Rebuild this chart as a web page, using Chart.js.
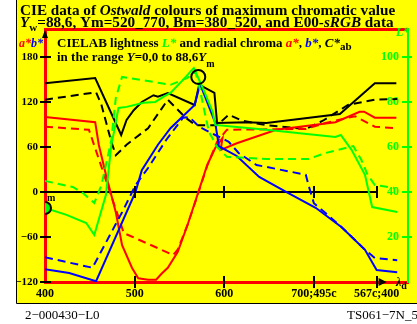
<!DOCTYPE html>
<html>
<head>
<meta charset="utf-8">
<script src="https://cdn.jsdelivr.net/npm/chart.js"></script>
<style>
  html, body { margin: 0; padding: 0; background: #fff; }
</style>
</head>
<body>
<canvas id="ostwaldChart" width="417" height="324"></canvas>
<script>
// wavelength axis ticks
const xTicks = [400, 500, 600, 700, 770];
const xTickLabels = ["400", "500", "600", "700;495c", "567c;400"];
const abTicks = [-120, -60, 0, 60, 120, 180];
const lTicks = [20, 40, 60, 80, 100];

// a* (solid = Ostwald, dashed = E00-sRGB)
const aLam = [400, 456, 460, 468, 479, 486, 497, 504, 515, 524, 530, 537, 548, 559, 570, 581, 590, 598, 596, 614, 658, 724, 751, 756, 768, 792];
const aVal = [100, 93, 63, 23, -27, -71, -101, -115, -117, -117, -109, -101, -80, -44, -4, 36, 59, 72, 56, 65, 83, 93, 107, 107, 99, 99];
const aLamE = [400, 449, 488, 496, 543, 548, 559, 570, 581, 592, 603, 691, 713, 738, 746, 768, 792];
const aValE = [87, 83, -55, -59, -84, -77, -44, -5, 35, 67, 83, 84, 92, 99, 101, 87, 85];

// b*
const bLam = [400, 427, 457, 501, 508, 526, 540, 567, 573, 590, 594, 614, 639, 669, 702, 731, 757, 770, 793];
const bVal = [-103, -108, -119, 0, 29, 63, 85, 116, 144, 92, 61, 48, 20, 0, -21, -47, -77, -104, -107];
const bLamE = [400, 453, 486, 501, 515, 535, 554, 561, 572, 590, 605, 616, 636, 691, 694, 700, 713, 731, 757, 768, 793];
const bValE = [-87, -101, -27, 9, 32, 69, 99, 100, 87, 76, 67, 52, 36, 23, 9, -15, -28, -47, -77, -88, -91];

// C*ab
const cLam = [400, 456, 485, 491, 499, 508, 521, 526, 537, 567, 572, 589, 592, 625, 647, 729, 768, 792];
const cVal = [145, 152, 76, 96, 109, 120, 129, 127, 132, 116, 143, 132, 92, 93, 92, 104, 145, 145];
const cLamE = [400, 457, 463, 474, 479, 491, 515, 537, 557, 568, 592, 605, 620, 647, 691, 710, 738, 768, 793];
const cValE = [123, 133, 116, 67, 49, 63, 85, 123, 99, 89, 89, 103, 95, 89, 84, 95, 116, 123, 124];

// L* (right axis)
const lLam = [400, 424, 446, 455, 468, 474, 477, 482, 491, 510, 523, 532, 540, 554, 566, 576, 587, 590, 614, 647, 724, 730, 742, 757, 765, 793];
const lVal = [32.9, 29.8, 26.2, 20.9, 38.7, 60.9, 66.7, 77.3, 77.8, 79.6, 80, 82.2, 84, 89.8, 95.1, 86.2, 75.6, 69.8, 68.9, 67.6, 64.4, 65.3, 58.7, 47.6, 33.3, 31.1];
const lLamE = [400, 431, 442, 455, 463, 468, 474, 479, 486, 493, 528, 540, 559, 568, 573, 578, 583, 592, 603, 647, 694, 713, 744, 753, 760, 768, 790];
const lValE = [44.9, 42.2, 39.6, 35.1, 43.1, 52, 63.1, 81.8, 91.1, 90.7, 88.4, 87.6, 90.7, 93.3, 85.3, 75.6, 66.7, 60, 55.6, 54.7, 54.7, 57.3, 60.4, 54.2, 47.6, 43.1, 41.8];

// markers: start point and Y_m maximum
const mLam = [400], mL = [32.9];
const ymLam = [571], ymL = [91.1];

const pts = (xs, ys) => xs.map((x, i) => ({ x: x, y: ys[i] }));
const serif = "Liberation Serif";
const F = (size, style) => (style || "bold") + " " + size + "px \"" + serif + "\"";

function line(xs, ys, color, dashed, axis) {
  return {
    data: pts(xs, ys),
    yAxisID: axis || "y",
    showLine: true,
    borderColor: color,
    borderWidth: 2,
    borderDash: dashed ? [8, 5] : [],
    pointRadius: 0,
    fill: false,
  };
}

function rich(c, x, y, parts) {
  parts.forEach(p => {
    c.font = p.font;
    c.fillStyle = p.color || "#000";
    c.fillText(p.t, x, y + (p.dy || 0));
    x += c.measureText(p.t).width;
  });
  return x;
}

const decor = {
  id: "decor",
  beforeDraw(chart) {
    const c = chart.ctx;
    c.save();
    c.fillStyle = "#fff";
    c.fillRect(0, 0, chart.width, chart.height);
    c.fillStyle = "#ffff00";
    c.fillRect(16, 0, chart.width - 16, 303);
    c.strokeStyle = "#000";
    c.lineWidth = 1;
    c.beginPath();
    c.moveTo(16.5, 0);
    c.lineTo(16.5, 303.5);
    c.lineTo(chart.width, 303.5);
    c.stroke();
    c.restore();
  },
  afterDraw(chart) {
    const c = chart.ctx;
    const sx = chart.scales.x, sy = chart.scales.y, sl = chart.scales.y2;
    const area = chart.chartArea;
    c.save();

    // tick marks crossing the axes
    c.lineWidth = 2;
    c.strokeStyle = "#000";
    abTicks.forEach(v => {
      const py = Math.round(sy.getPixelForValue(v));
      c.beginPath(); c.moveTo(40, py); c.lineTo(51, py); c.stroke();
    });
    const y0 = sy.getPixelForValue(0);
    xTicks.slice(1).forEach(v => {
      const px = Math.round(sx.getPixelForValue(v));
      c.beginPath(); c.moveTo(px, area.bottom - 6); c.lineTo(px, area.bottom + 6); c.stroke();
      c.beginPath(); c.moveTo(px, y0 - 6); c.lineTo(px, y0 + 6); c.stroke();
    });
    c.strokeStyle = "#00ff00";
    lTicks.forEach(v => {
      const py = Math.round(sl.getPixelForValue(v));
      c.beginPath(); c.moveTo(area.right - 6, py); c.lineTo(area.right + 4, py); c.stroke();
    });

    // arrows
    c.fillStyle = "#000";
    const ax = sx.getPixelForValue(770);
    c.beginPath(); c.moveTo(ax + 2, area.bottom - 4); c.lineTo(ax + 10, area.bottom); c.lineTo(ax + 2, area.bottom + 4); c.fill();
    c.beginPath(); c.moveTo(area.left - 3, area.top + 9); c.lineTo(area.left, area.top + 1); c.lineTo(area.left + 3, area.top + 9); c.fill();

    c.textBaseline = "alphabetic";
    // title
    rich(c, 20, 15, [
      { t: "CIE data of ", font: F(15.2) },
      { t: "Ostwald", font: F(15.2, "italic bold") },
      { t: " colours of maximum chromatic value", font: F(15.2) },
    ]);
    rich(c, 20, 27, [
      { t: "Y", font: F(15.2, "italic bold") },
      { t: "w", font: F(11), dy: 4 },
      { t: "=88,6, Ym=520_770, Bm=380_520, and E00-", font: F(15.2) },
      { t: "sRGB", font: F(15.2, "italic bold") },
      { t: " data", font: F(15.2) },
    ]);

    // legend lines
    rich(c, 19, 47, [
      { t: "a*", font: F(12, "italic bold"), color: "#ff0000" },
      { t: "b*", font: F(12, "italic bold"), color: "#0000ff" },
    ]);
    rich(c, 57, 47, [
      { t: "CIELAB lightness ", font: F(13) },
      { t: "L*", font: F(13, "italic bold"), color: "#00ff00" },
      { t: " and radial chroma ", font: F(13) },
      { t: "a*", font: F(13, "italic bold"), color: "#ff0000" },
      { t: ", ", font: F(13) },
      { t: "b*", font: F(13, "italic bold"), color: "#0000ff" },
      { t: ", ", font: F(13) },
      { t: "C*", font: F(13, "italic bold") },
      { t: "ab", font: F(11), dy: 3 },
    ]);
    rich(c, 57, 61, [
      { t: "in the range ", font: F(13) },
      { t: "Y", font: F(13, "italic bold") },
      { t: "=0,0 to 88,6", font: F(13) },
      { t: "Y", font: F(13, "italic bold") },
      { t: "m", font: F(10), dy: 6 },
    ]);
    rich(c, 47, 201, [{ t: "m", font: F(10) }]);

    rich(c, 396, 36, [{ t: "L*", font: F(12, "italic bold"), color: "#00ff00" }]);
    rich(c, 396, 286, [
      { t: "λ", font: F(12, "italic bold") },
      { t: "d", font: F(10), dy: 3 },
    ]);

    // footer
    rich(c, 25, 319, [{ t: "2−000430−L0", font: F(13, "normal") }]);
    c.textAlign = "right";
    rich(c, 418, 319, [{ t: "TS061−7N_5", font: F(13, "normal") }]);
    c.restore();
  },
};

const datasets = [
  { data: pts(ymLam, ymL), yAxisID: "y2", pointRadius: 7, pointBorderWidth: 2,
    pointBorderColor: "#000", pointBackgroundColor: "rgba(0,0,0,0)" },
  { data: pts(mLam, mL), yAxisID: "y2", pointRadius: 6, pointBorderWidth: 2,
    pointBorderColor: "#000", pointBackgroundColor: "#00ff00" },
  line(lLam, lVal, "#00ff00", false, "y2"),
  line(lLamE, lValE, "#00ff00", true, "y2"),
  line(bLam, bVal, "#0000ff", false),
  line(bLamE, bValE, "#0000ff", true),
  line(aLam, aVal, "#ff0000", false),
  line(aLamE, aValE, "#ff0000", true),
  line(cLam, cVal, "#000000", false),
  line(cLamE, cValE, "#000000", true),
  line([400, 770], [0, 0], "#000000", false),
];

const tickFont = { family: serif, size: 11, weight: "bold" };

const ctx = document.getElementById("ostwaldChart").getContext("2d");
const myChart = new Chart(ctx, {
  type: "scatter",
  data: { datasets: datasets },
  options: {
    responsive: false,
    animation: false,
    layout: { padding: 0 },
    plugins: { legend: { display: false }, tooltip: { enabled: false } },
    scales: {
      x: {
        type: "linear", position: "bottom", min: 400, max: 805,
        afterFit: s => { s.height = 42; },
        afterBuildTicks: s => { s.ticks = xTicks.map(v => ({ value: v })); },
        grid: { display: false, drawTicks: false },
        border: { color: "#ff0000", width: 3 },
        ticks: {
          callback: (v, i) => xTickLabels[i],
          font: { family: serif, size: 12, weight: "bold" },
          color: "#000", padding: 5, maxRotation: 0, autoSkip: false,
        },
      },
      x2: {
        type: "linear", position: "top", min: 400, max: 805,
        afterFit: s => { s.height = 29; },
        grid: { display: false, drawTicks: false },
        border: { color: "#ff0000", width: 3 },
        ticks: { display: false },
      },
      y: {
        type: "linear", position: "left", min: -120, max: 217.3,
        afterFit: s => { s.width = 45; },
        afterBuildTicks: s => { s.ticks = abTicks.map(v => ({ value: v })); },
        grid: { display: false, drawTicks: false },
        border: { color: "#ff0000", width: 3 },
        ticks: {
          callback: v => String(v).replace("-", "−"),
          font: tickFont, color: "#000", padding: 7,
        },
      },
      y2: {
        type: "linear", position: "right", min: 0, max: 112.4,
        afterFit: s => { s.width = 3; },
        afterBuildTicks: s => { s.ticks = lTicks.map(v => ({ value: v })); },
        grid: { display: false, drawTicks: false },
        border: { color: "#00ff00", width: 2 },
        ticks: {
          mirror: true, padding: -9,
          font: { family: serif, size: 12, weight: "bold" }, color: "#00ff00",
        },
      },
    },
  },
  plugins: [decor],
});
</script>
</body>
</html>
